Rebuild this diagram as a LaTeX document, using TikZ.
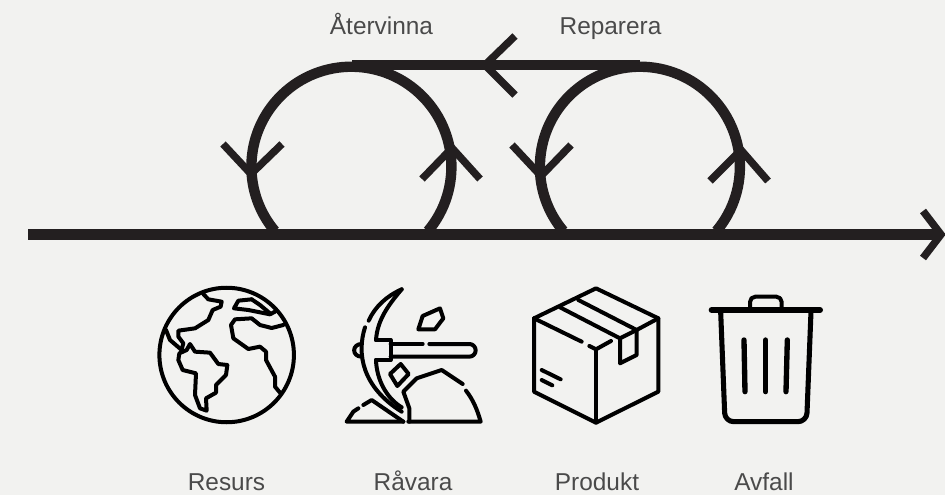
\documentclass[tikz,border=0pt]{standalone}
\usepackage{fontspec}
\setmainfont{Liberation Sans}
\usepackage{xcolor}
\usetikzlibrary{arrows.meta, positioning, calc}
\definecolor{mybg}{HTML}{F2F2F0}
\definecolor{myink}{HTML}{231F20}
\definecolor{mytext}{HTML}{4A4A4A}

\begin{document}
\begin{tikzpicture}[
  x=0.75pt, y=-0.75pt,
  every node/.style={font=\fontsize{18.3}{20}\selectfont, text=mytext, inner sep=0pt, anchor=base},
  flow/.style={draw=myink, line width=7.8pt},
  chev/.style={draw=myink, line width=5.6pt, miter limit=10},
  icon/.style={draw=black, line width=3pt, line cap=round, line join=round}
]
\fill[mybg] (0,0) rectangle (945,495);
\useasboundingbox (0,0) rectangle (945,495);

\coordinate (start) at (28,234.5);
\coordinate (end)   at (941,234.5);
\coordinate (topA)  at (351.5,65);
\coordinate (topB)  at (640,65);

\node (aterv) at (381.5,35)  {Återvinna};
\node (repar) at (610.5,35)  {Reparera};
\node (resurs) at (226.5,490) {Resurs};
\node (ravara) at (413,490) {Råvara};
\node (prod)   at (597,490) {Produkt};
\node (avfall) at (764,490) {Avfall};

% flow lines
\draw[flow] (start) -- (end);
\draw[flow] (topB) -- (topA);
\draw[flow] (428,231) arc[start angle=40, end angle=-220, radius=100];
\draw[flow] (716.5,231) arc[start angle=40, end angle=-220, radius=100];

% chevrons
\draw[chev] (923,211) -- (end) -- (923,258);
\draw[chev] (515,36) -- (485,65) -- (515,95);
\draw[chev] (223,144) -- (251,174) -- (282,144);
\draw[chev] (422,179) -- (452,148) -- (480,179);
\draw[chev] (512,145) -- (541,176) -- (571,145);
\draw[chev] (710,181) -- (741,150) -- (768,181);

% globe
\begin{scope}[shift={(140,270)}, scale=1/3]
\node[draw=black, line width=3pt, circle, minimum size=134.5pt*0.75, anchor=center] (globe) at (260,255) {};
\draw[icon] (430,165) -- (395,174) -- (360,165) -- (335,145) -- (285,148) -- (273,165) -- (280,205) -- (325,237) -- (360,230) -- (378,245) -- (378,270) -- (405,320) -- (405,350) -- (420,368);
\draw[icon] (335,88) -- (295,92) -- (282,115) -- (325,120) -- (390,133) -- (405,125);
\draw[icon] (335,88) -- (360,105) -- (390,130);
\draw[icon] (190,72) -- (205,88) -- (245,95) -- (242,110) -- (218,120) -- (205,150) -- (165,175) -- (115,182) -- (115,200) -- (130,220) -- (125,238);
\draw[icon] (78,180) -- (90,210) -- (125,240);
\draw[icon] (150,222) -- (165,245) -- (210,248) -- (235,282) -- (262,285) -- (258,315) -- (228,345) -- (228,368) -- (198,385) -- (200,422) -- (180,415) -- (165,375) -- (168,310) -- (128,300) -- (115,270) -- (118,250) -- (140,240) -- cycle;

% pickaxe
\draw[icon] (785,58) .. controls (740,78) and (705,110) .. (686,152);
\draw[icon] (675,172) .. controls (650,250) and (665,350) .. (785,425);
\draw[icon] (785,58) .. controls (745,105) and (712,150) .. (708,210);
\draw[icon] (708,270) .. controls (710,330) and (740,385) .. (785,412);
\draw[icon] (708,210) -- (752,210) -- (752,270) -- (708,270);
\draw[icon] (752,222) -- (848,222);
\draw[icon] (868,222) -- (988,222) arc[start angle=-90, end angle=90, radius=19] -- (752,260);
\draw[icon] (665,222) .. controls (635,222) and (635,260) .. (665,260);
\draw[icon] (848,138) -- (900,115) -- (910,145) -- (885,178) -- (835,178) -- cycle;
\draw[icon] (750,312) -- (782,282) -- (806,312) -- (772,348) -- cycle;
\draw[icon] (808,455) -- (808,415) -- (790,365) -- (830,325) -- (905,300) -- (968,342);
\draw[icon] (978,362) .. controls (1000,390) and (1012,420) .. (1022,455) -- (805,455);
\draw[icon] (790,455) -- (620,455) -- (640,425) -- (655,415);
\draw[icon] (670,405) -- (695,390) -- (790,455);

% box
\begin{scope}[shift={(1110,0)}]
\draw[icon] (258,55) -- (445,145) -- (445,365) -- (258,458) -- (72,365) -- (72,145) -- cycle;
\draw[icon] (72,145) -- (215,215);
\draw[icon] (238,228) -- (258,238) -- (303,213);
\draw[icon] (258,238) -- (258,458);
\draw[icon] (445,145) -- (380,180);
\draw[icon] (150,112) -- (330,205) -- (330,280) -- (380,255) -- (380,180) -- (205,90);
\draw[icon] (330,205) -- (380,180);
\draw[icon] (95,300) -- (152,328);
\draw[icon] (95,330) -- (127,346);

% bin
\draw[icon, line width=4.5pt] (605,120) -- (930,120);
\draw[icon, rounded corners=4pt] (720,115) -- (720,80) -- (815,80) -- (815,115);
\draw[icon, line width=3.8pt, rounded corners=6.5pt] (632,125) -- (645,455) -- (890,455) -- (903,125);
\draw[icon, line width=4pt] (702,210) -- (705,365);
\draw[icon, line width=4pt] (767,210) -- (767,365);
\draw[icon, line width=4pt] (832,210) -- (828,365);
\end{scope}
\end{scope}
\end{tikzpicture}
\end{document}
